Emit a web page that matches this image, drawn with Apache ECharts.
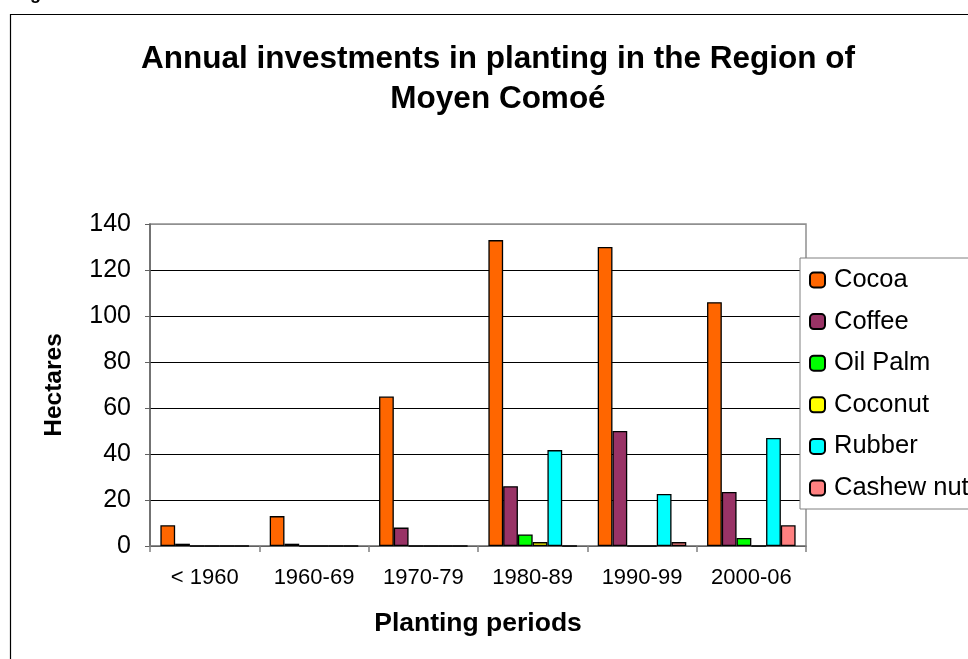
<!DOCTYPE html>
<html>
<head>
<meta charset="utf-8">
<script src="https://cdn.jsdelivr.net/npm/echarts@6/dist/echarts.min.js"></script>
<style>
  html, body { margin: 0; padding: 0; background: #fff; }
  #chart { width: 968px; height: 659px; }
</style>
</head>
<body>
<div id="chart"></div>
<script>
const periods = ['< 1960', '1960-69', '1970-79', '1980-89', '1990-99', '2000-06']
const cocoa = [9, 13, 65, 133, 130, 106]
const coffee = [1, 1, 8, 26, 50, 23.5]
const oilPalm = [0, 0, 0, 5, 0, 3.5]
const coconut = [0, 0, 0, 1.7, 0, 0]
const rubber = [0, 0, 0, 41.7, 22.6, 47]
const cashew = [0, 0, 0, 0, 1.7, 9]
const yTicks = [0, 20, 40, 60, 80, 100, 120, 140]

const font = '"Liberation Sans", Arial, sans-serif'

const crops = [
  { name: 'Cocoa', data: cocoa, color: '#FF6600' },
  { name: 'Coffee', data: coffee, color: '#993366' },
  { name: 'Oil Palm', data: oilPalm, color: '#00FF00' },
  { name: 'Coconut', data: coconut, color: '#FFFF00' },
  { name: 'Rubber', data: rubber, color: '#00FFFF' },
  { name: 'Cashew nut', data: cashew, color: '#FF8080' }
]

// gridlines black, except the top one which is the grey plot border
const gridColors = yTicks.map((v, i) => (i === yTicks.length - 1 ? '#909090' : '#000'))

const chart = echarts.init(document.getElementById('chart'))
const option = {
  animation: false,
  textStyle: { fontFamily: font, color: '#000' },
  graphic: [
    {
      type: 'rect',
      silent: true,
      z: -10,
      shape: { x: 10.5, y: 14.5, width: 1000, height: 700 },
      style: { fill: 'none', stroke: '#000', lineWidth: 1.2 }
    },
    {
      type: 'text',
      x: 14,
      y: -15,
      style: { text: 'Figure', font: 'bold 18px ' + font, fill: '#000' }
    },
    {
      type: 'text',
      x: 498,
      y: 39,
      style: {
        text: 'Annual investments in planting in the Region of\nMoyen Comoé',
        font: 'bold 31.5px ' + font,
        fill: '#000',
        textAlign: 'center',
        lineHeight: 40
      }
    }
  ],
  legend: {
    orient: 'vertical',
    left: 800,
    top: 258,
    itemWidth: 15,
    itemHeight: 15,
    itemGap: 15.6,
    padding: [9, 10, 8, 9],
    borderColor: '#808080',
    borderWidth: 1,
    backgroundColor: '#fff',
    selectedMode: false,
    textStyle: { fontSize: 25.5, fontFamily: font, color: '#000', lineHeight: 26, padding: [0, 0, 0, 4] },
    data: crops.map(c => c.name)
  },
  grid: {
    left: 150,
    right: 162,
    top: 224,
    bottom: 113,
    show: true,
    borderColor: '#909090',
    borderWidth: 1.5,
    backgroundColor: '#fff'
  },
  xAxis: {
    type: 'category',
    data: periods,
    name: 'Planting periods',
    nameLocation: 'middle',
    nameGap: 64,
    nameTextStyle: { fontSize: 26.5, fontWeight: 'bold', fontFamily: font, color: '#000' },
    axisLine: { lineStyle: { color: '#808080', width: 1.5 } },
    axisTick: { show: true, length: 6, lineStyle: { color: '#808080', width: 1.5 } },
    axisLabel: { fontSize: 22, margin: 21, color: '#000', fontFamily: font }
  },
  yAxis: {
    type: 'value',
    min: 0,
    max: 140,
    interval: 20,
    name: 'Hectares',
    nameLocation: 'middle',
    nameGap: 83,
    nameTextStyle: { fontSize: 24.5, fontWeight: 'bold', fontFamily: font, color: '#000' },
    axisLine: { show: true, lineStyle: { color: '#606060', width: 1.5 } },
    axisTick: { show: true, length: 5, lineStyle: { color: '#606060', width: 1 } },
    axisLabel: {
      fontSize: 25,
      margin: 19,
      color: '#000',
      fontFamily: font,
      formatter: v => (yTicks.includes(v) ? String(v) : '')
    },
    splitLine: { show: true, lineStyle: { color: gridColors, width: 1 } }
  },
  series: crops.map(c => ({
    name: c.name,
    type: 'bar',
    data: c.data,
    barGap: '0%',
    barCategoryGap: '19%',
    itemStyle: { color: c.color, borderColor: '#000', borderWidth: 1.3 }
  }))
}
chart.setOption(option)
</script>
</body>
</html>
